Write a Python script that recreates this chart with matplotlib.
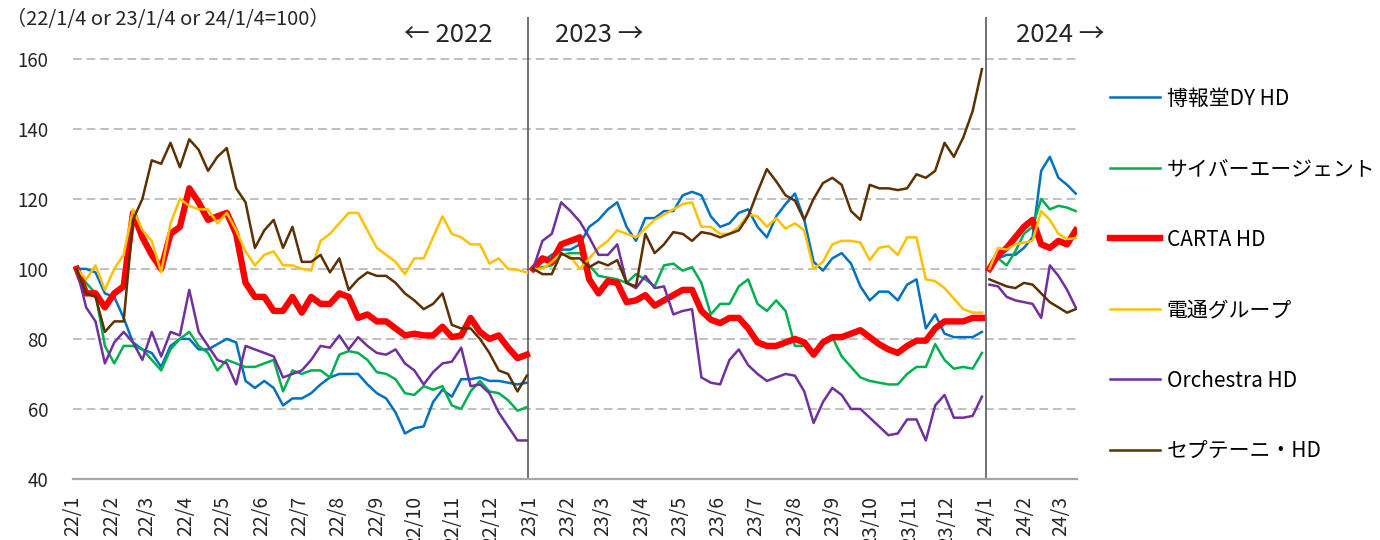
import pandas as pd
import matplotlib.pyplot as plt
import matplotlib.dates as mdates

plt.rcParams["font.family"] = ["Noto Sans CJK JP", "DejaVu Sans"]

names = ["博報堂DY HD", "サイバーエージェント", "CARTA HD", "電通グループ", "Orchestra HD", "セプテーニ・HD"]
colors = ["#0070C0", "#00B050", "#FF0000", "#FFC000", "#7030A0", "#5C3000"]
widths = [1.8, 1.8, 4.6, 1.8, 1.8, 1.8]

# 2022 (22/1/4=100), about one point per week
hakuhodo_22 = [100, 100, 99, 93, 92, 86, 79, 77, 76, 72, 78, 80, 80, 77, 77, 78.5, 80, 79, 68, 66, 68, 66, 61, 63,
               63, 64.5, 67, 69, 70, 70, 70, 67, 64.5, 63, 59, 53, 54.5, 55, 62, 65.5, 63.5, 68.5, 68.5, 69, 68, 68, 67.5, 67, 67.5]
cyber_22 = [100, 96, 93, 78, 73, 78, 78, 77, 74, 71, 77, 80, 82, 78, 76, 71, 74, 73, 72, 72, 73, 74, 65, 71,
            70, 71, 71, 69, 75.5, 76.5, 76, 74, 70.5, 70, 68.5, 64.5, 64, 66.5, 65.5, 66.5, 61, 60, 65, 68, 65, 64.5, 62.5, 59.5, 60.5]
carta_22 = [100, 93, 93, 89, 93, 95, 116, 109, 104, 100, 110, 112, 123, 119, 114, 115, 116, 110, 96, 92, 92, 88, 88, 92,
            87.5, 92, 90, 90, 93, 92, 86, 87, 85, 85, 83, 81, 81.5, 81, 81, 83.5, 80.5, 81, 86, 82, 80, 81, 77.5, 74.5, 75.5]
dentsu_22 = [100, 97, 101, 94, 100, 104, 117, 111, 108, 99, 113, 120, 118, 117, 117, 113, 116, 111, 105, 101, 104, 105, 101, 101,
             100, 99.5, 108, 110, 113, 116, 116, 111, 106, 104, 102, 98.5, 103, 103, 109, 115, 110, 109, 107, 107, 101.5, 103, 100, 99.7, 99]
orchestra_22 = [100, 89, 85, 73, 79, 82, 79, 74, 82, 75, 82, 81, 94, 82, 78, 74, 73, 67, 78, 77, 76, 75, 69, 70,
                71, 74, 78, 77.5, 81, 77, 80.5, 78, 76, 75.5, 77, 73, 71, 67, 70.5, 73, 73.5, 77.5, 66.5, 67, 64.5, 59, 55, 51, 51]
septeni_22 = [100, 93, 92, 82, 85, 85, 114, 120, 131, 130, 136, 129, 137, 134, 128, 132, 134.5, 123, 119, 106, 111, 114, 106, 112,
              102, 102, 104, 99, 103, 94, 97, 99, 98, 98, 96, 93, 91, 88.5, 90, 93, 84, 83, 83, 80, 76, 71, 70, 65, 69.5]

# 2023 (23/1/4=100)
hakuhodo_23 = [100, 102, 104, 105.5, 105.5, 107, 112, 114, 117, 119, 112, 108, 114.5, 114.5, 116.5, 116.5, 121, 122, 121, 115, 112, 113, 116, 117,
               112, 109, 115, 118.5, 121.5, 114, 102, 99.5, 103, 104.5, 101.5, 95, 91, 93.5, 93.5, 91, 95.5, 97, 83, 87, 81.5, 80.5, 80.5, 80.5, 82]
cyber_23 = [100, 100.5, 101, 104, 104.5, 104.5, 101, 98, 97.5, 97, 96, 98.5, 97, 95, 101, 101.5, 99.5, 100.5, 96, 87, 90, 90, 95, 97,
            90, 88, 91, 88, 78, 78, 76, 79, 80.5, 75, 72, 69, 68, 67.5, 67, 67, 70, 72, 72, 78.5, 74, 71.5, 72, 71.5, 76]
carta_23 = [100, 103, 102, 107, 108, 109, 97, 93, 96.5, 96, 90.5, 91, 92.5, 89.5, 91, 92.5, 94, 94, 88, 85.5, 84.5, 86, 86, 83,
            79, 78, 78, 79, 80, 79, 75.5, 79, 80.5, 80.5, 81.5, 82.5, 80.5, 78.5, 77, 76, 78, 79.5, 79.5, 83, 85, 85, 85, 86, 86]
dentsu_23 = [100, 100, 102, 104.5, 103.5, 100, 103, 106, 108, 111, 110, 109, 111.5, 114, 115.5, 117, 118.5, 119, 112, 112, 110, 110, 112, 115.5,
             115, 112, 114.5, 111.5, 113, 111, 100, 102, 107, 108, 108, 107.5, 102.5, 106, 106.5, 104, 109, 109, 97, 96.5, 94.5, 91.5, 88.5, 87.5, 87.5]
orchestra_23 = [100, 108, 110, 119, 116.5, 113.5, 109, 104, 104, 107, 96, 94.5, 98, 94.5, 95, 87, 88, 88.5, 69, 67.5, 67, 74, 77, 72.5,
                70, 68, 69, 70, 69.5, 65, 56, 62, 66, 64, 60, 60, 57.5, 55, 52.5, 53, 57, 57, 51, 61, 64, 57.5, 57.5, 58, 63.5]
septeni_23 = [100, 98.5, 98.5, 104.5, 103, 103, 100.5, 102, 101, 102.5, 96, 95, 110, 104.5, 107, 110.5, 110, 108, 110.5, 110, 109, 110, 111, 115,
              122, 128.5, 125, 121, 119.5, 114, 120, 124.5, 126, 124, 116.5, 114, 124, 123, 123, 122.5, 123, 127, 126, 128, 136, 132, 137.5, 145, 157]

# 2024 (24/1/4=100)
hakuhodo_24 = [100, 103, 104, 104, 106, 109, 128, 132, 126, 124, 121.5]
cyber_24 = [100, 103, 101, 105, 110, 112, 120, 117, 118, 117.5, 116.5]
carta_24 = [100, 104, 106, 109, 112, 114, 107, 106, 108, 107, 111]
dentsu_24 = [100, 106, 105.5, 107, 107.5, 108, 116.5, 114, 110, 108.5, 108.8]
orchestra_24 = [95.5, 95, 92, 91, 90.5, 90, 86, 101, 98, 94, 89]
septeni_24 = [97, 96, 95, 94.5, 96, 95.5, 93, 90.5, 89, 87.5, 88.5]

years = [
    (pd.date_range("2022-01-04", "2022-12-30", periods=len(hakuhodo_22)),
     [hakuhodo_22, cyber_22, carta_22, dentsu_22, orchestra_22, septeni_22]),
    (pd.date_range("2023-01-04", "2023-12-29", periods=len(hakuhodo_23)),
     [hakuhodo_23, cyber_23, carta_23, dentsu_23, orchestra_23, septeni_23]),
    (pd.date_range("2024-01-04", "2024-03-13", periods=len(hakuhodo_24)),
     [hakuhodo_24, cyber_24, carta_24, dentsu_24, orchestra_24, septeni_24]),
]

fig = plt.figure(figsize=(13.8, 5.4), dpi=100)
ax = fig.add_axes([0.0529, 0.113, 0.7275, 0.856])

for dates, series in years:
    for i, values in enumerate(series):
        ax.plot(dates, values, color=colors[i], lw=widths[i],
                label=names[i] if dates[0].year == 2022 else None,
                solid_joinstyle="round", zorder=3)

# year boundaries
for d in ["2022-12-31", "2024-01-01"]:
    ax.axvline(pd.Timestamp(d), color="#595959", lw=1.2, zorder=2)

ax.set_ylim(40, 172)
ax.set_yticks(range(40, 161, 20))
ax.set_xlim(pd.Timestamp("2022-01-01"), pd.Timestamp("2024-03-14"))
ax.yaxis.grid(True, color="#BFBFBF", lw=1.4, linestyle=(0, (4.5, 2.5)))
ax.set_axisbelow(True)

ax.xaxis.set_major_locator(mdates.MonthLocator())
ax.xaxis.set_major_formatter(mdates.DateFormatter("%y/%-m"))
plt.setp(ax.get_xticklabels(), rotation=90, va="top", ha="center")
ax.tick_params(axis="x", length=0, pad=12, labelsize=14, colors="#262626")
ax.tick_params(axis="y", length=0, pad=18, labelsize=13.5, colors="#262626")

for side in ["top", "right", "left"]:
    ax.spines[side].set_visible(False)
ax.spines["bottom"].set_color("#A6A6A6")
ax.spines["bottom"].set_linewidth(1.6)

fig.text(0.004, 0.963, "（22/1/4 or 23/1/4 or 24/1/4=100）", fontsize=14.5, color="#262626", va="center")
fig.text(0.293, 0.935, "← 2022", fontsize=18.5, color="#262626", va="center")
fig.text(0.402, 0.935, "2023 →", fontsize=18.5, color="#262626", va="center")
fig.text(0.736, 0.935, "2024 →", fontsize=18.5, color="#262626", va="center")

fig.legend(loc="center left", bbox_to_anchor=(0.804, 0.491), frameon=False,
           fontsize=15, handlelength=2.4, handletextpad=0.35, labelspacing=2.33,
           borderpad=0, borderaxespad=0)

plt.savefig("out.png", dpi=100)
